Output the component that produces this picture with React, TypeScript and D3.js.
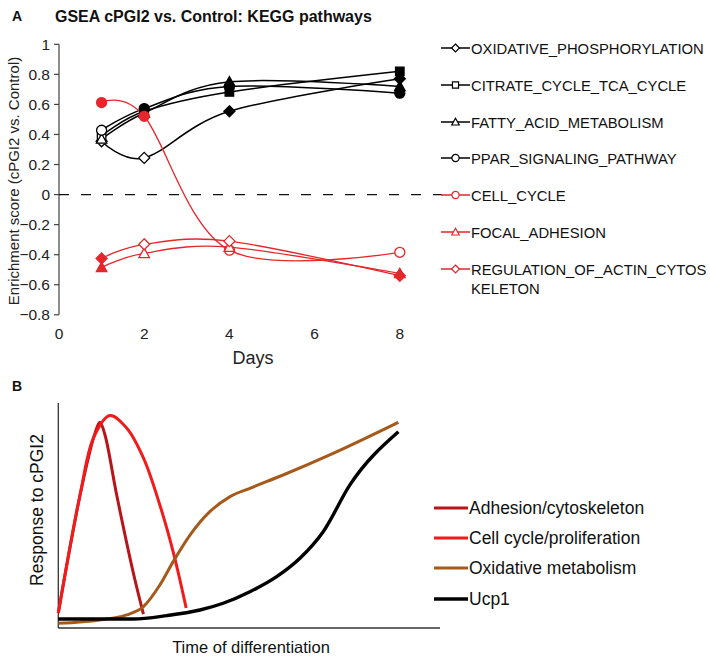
import React from "react";
import * as d3 from "d3";

// ---------- Panel A data ----------
const days = [1, 2, 4, 8];
const xTicks = [0, 2, 4, 6, 8];
const yTicks = [-0.8, -0.6, -0.4, -0.2, 0, 0.2, 0.4, 0.6, 0.8, 1];

const seriesNames = [
  "OXIDATIVE_PHOSPHORYLATION",
  "CITRATE_CYCLE_TCA_CYCLE",
  "FATTY_ACID_METABOLISM",
  "PPAR_SIGNALING_PATHWAY",
  "CELL_CYCLE",
  "FOCAL_ADHESION",
  "REGULATION_OF_ACTIN_CYTOSKELETON",
];
const legendLabels = [
  ["OXIDATIVE_PHOSPHORYLATION"],
  ["CITRATE_CYCLE_TCA_CYCLE"],
  ["FATTY_ACID_METABOLISM"],
  ["PPAR_SIGNALING_PATHWAY"],
  ["CELL_CYCLE"],
  ["FOCAL_ADHESION"],
  ["REGULATION_OF_ACTIN_CYTOS", "KELETON"],
];
const oxphos = [0.355, 0.244, 0.554, 0.77];
const citrate = [0.39, 0.554, 0.683, 0.82];
const fattyAcid = [0.37, 0.543, 0.75, 0.72];
const ppar = [0.428, 0.572, 0.72, 0.675];
const cellCycle = [0.612, 0.521, -0.37, -0.384];
const focalAdhesion = [-0.484, -0.391, -0.35, -0.525];
const actinCyto = [-0.425, -0.331, -0.31, -0.54];

const oxphosFilled = [false, false, true, true];
const citrateFilled = [false, true, true, true];
const fattyFilled = [false, true, true, true];
const pparFilled = [false, true, true, true];
const cellFilled = [true, true, false, false];
const focalFilled = [true, false, false, true];
const actinFilled = [true, false, false, true];

const seriesValues = [oxphos, citrate, fattyAcid, ppar, cellCycle, focalAdhesion, actinCyto];
const seriesFilled = [oxphosFilled, citrateFilled, fattyFilled, pparFilled, cellFilled, focalFilled, actinFilled];
const seriesShapes = ["diamond", "square", "triangle", "circle", "circle", "triangle", "diamond"];
const seriesGroup = ["up", "up", "up", "up", "down", "down", "down"];

// ---------- Panel B data (schematic, arbitrary units 0-100) ----------
const bLabels = ["Adhesion/cytoskeleton", "Cell cycle/proliferation", "Oxidative metabolism", "Ucp1"];
const adhesionPts: [number, number][] = [[0, 6.7], [5.7, 59.1], [9.6, 86.5], [10.9, 91.4], [12.2, 86], [15.3, 59.1], [19.6, 24.9], [22.3, 6.2]];
const cellCyclePts: [number, number][] = [[0, 6.7], [5.7, 59.1], [9.2, 84.4], [13.5, 94.4], [17.9, 88.9], [22.3, 75.6], [26.6, 54.7], [30.1, 33.8], [33.5, 8.9]];
const oxMetPts: [number, number][] = [[0, 2.1], [10.9, 3.6], [17.9, 5.8], [22.3, 9.5], [26.6, 19.1], [30.1, 29.5], [34.5, 41.3], [39.7, 51.7], [45, 58.4], [50.2, 62.1], [58.9, 68], [72, 77.6], [89.1, 91.4]];
const ucp1Pts: [number, number][] = [[0, 4], [19.6, 4], [28.4, 5.5], [37.1, 8], [43.2, 11], [50.2, 16.1], [57.2, 22.8], [63.3, 31], [69.4, 42.8], [76.4, 63.6], [89.1, 87.2]];
const bSeries = [adhesionPts, cellCyclePts, oxMetPts, ucp1Pts];

const FONT = "'Liberation Sans', Arial, Helvetica, sans-serif";
const RED = "#e5262b";
const BLACK = "#000000";
const bColors = ["#b81419", "#f21b1b", "#a55a1c", "#000000"];
const bWidths = [3, 3, 3, 3.4];

function markerPath(shape: string, cx: number, cy: number, s: number): string {
  if (shape === "diamond") {
    const h = s * 1.1;
    return `M${cx},${cy - h}L${cx + h},${cy}L${cx},${cy + h}L${cx - h},${cy}Z`;
  }
  if (shape === "square") {
    const h = s * 0.85;
    return `M${cx - h},${cy - h}L${cx + h},${cy - h}L${cx + h},${cy + h}L${cx - h},${cy + h}Z`;
  }
  if (shape === "triangle") {
    const h = s * 1.05;
    return `M${cx},${cy - h}L${cx + h},${cy + h * 0.8}L${cx - h},${cy + h * 0.8}Z`;
  }
  const r = s;
  return `M${cx - r},${cy}A${r},${r} 0 1,0 ${cx + r},${cy}A${r},${r} 0 1,0 ${cx - r},${cy}Z`;
}

export default function App() {
  // Panel A scales
  const x = d3.scaleLinear().domain([0, 9]).range([59, 442.4]);
  const y = d3.scaleLinear().domain([-0.8, 1]).range([314.8, 44.3]);
  const line = d3
    .line<[number, number]>()
    .x((d) => x(d[0]))
    .y((d) => y(d[1]))
    .curve(d3.curveCardinal.tension(0));

  // Panel B scales
  const bx = d3.scaleLinear().domain([0, 100]).range([58.3, 440]);
  const by = d3.scaleLinear().domain([0, 100]).range([628, 403]);
  const bLinePeak = d3
    .line<[number, number]>()
    .x((d) => bx(d[0]))
    .y((d) => by(d[1]))
    .curve(d3.curveCatmullRom.alpha(0.5));
  const bLineRise = d3
    .line<[number, number]>()
    .x((d) => bx(d[0]))
    .y((d) => by(d[1]))
    .curve(d3.curveMonotoneX);

  const legendY = [48, 85, 122, 158, 195, 232, 269];
  const bLegendY = [508, 538, 568, 599];

  return (
    <svg
      width={710}
      height={657}
      viewBox="0 0 710 657"
      style={{ position: "absolute", left: 0, top: 0, background: "#fff", fontFamily: FONT }}
    >
      <rect x={0} y={0} width={710} height={657} fill="#fff" />
      {/* ---------- Panel A ---------- */}
      <text x={12} y={21} fontSize={14} fontWeight="bold" fill="#111">A</text>
      <text x={55} y={22} fontSize={16} fontWeight="bold" fill="#111">
        GSEA cPGI2 vs. Control: KEGG pathways
      </text>

      {/* y axis */}
      <line x1={x(0)} x2={x(0)} y1={y(1)} y2={y(-0.8)} stroke="#404040" strokeWidth={1.2} />
      {yTicks.map((t) => (
        <g key={t}>
          <line x1={x(0) - 5} x2={x(0)} y1={y(t)} y2={y(t)} stroke="#404040" strokeWidth={1.2} />
          <text x={x(0) - 9} y={y(t) + 5.5} fontSize={15.5} textAnchor="end" fill="#222">
            {d3.format("")(t)}
          </text>
        </g>
      ))}
      {/* zero dashed line */}
      <line
        x1={x(0)}
        x2={x(9)}
        y1={y(0)}
        y2={y(0)}
        stroke="#111"
        strokeWidth={1.3}
        strokeDasharray="10,12"
      />
      {/* x tick labels */}
      {xTicks.map((t) => (
        <text key={t} x={x(t)} y={339} fontSize={15.5} textAnchor="middle" fill="#222">
          {t}
        </text>
      ))}
      <text x={253} y={364} fontSize={18} textAnchor="middle" fill="#222">Days</text>
      <text
        transform={`translate(19,${181}) rotate(-90)`}
        fontSize={15}
        textAnchor="middle"
        fill="#222"
      >
        Enrichment score (cPGI2 vs. Control)
      </text>

      {/* series lines */}
      {seriesValues.map((vals, i) => {
        const color = seriesGroup[i] === "up" ? BLACK : RED;
        const pts = days.map((d, j) => [d, vals[j]] as [number, number]);
        return (
          <path
            key={seriesNames[i]}
            d={line(pts) || ""}
            fill="none"
            stroke={color}
            strokeWidth={seriesGroup[i] === "up" ? 1.5 : 1.3}
          />
        );
      })}
      {/* markers */}
      {seriesValues.map((vals, i) => {
        const color = seriesGroup[i] === "up" ? BLACK : RED;
        return (
          <g key={"m" + seriesNames[i]}>
            {days.map((d, j) => (
              <path
                key={d}
                d={markerPath(seriesShapes[i], x(d), y(vals[j]), 5)}
                fill={seriesFilled[i][j] ? color : "#fff"}
                stroke={color}
                strokeWidth={1.3}
              />
            ))}
          </g>
        );
      })}

      {/* legend A */}
      {legendLabels.map((lab, i) => {
        const color = seriesGroup[i] === "up" ? BLACK : RED;
        const ly = legendY[i];
        return (
          <g key={"lg" + i}>
            <line x1={441} x2={470} y1={ly} y2={ly} stroke={color} strokeWidth={1.5} />
            <path d={markerPath(seriesShapes[i], 455.5, ly, 3.6)} fill="#fff" stroke={color} strokeWidth={1.2} />
            {lab.map((t, k) => (
              <text key={k} x={471} y={ly + 5.5 + k * 19} fontSize={14.8} fill="#111">
                {t}
              </text>
            ))}
          </g>
        );
      })}

      {/* ---------- Panel B ---------- */}
      <text x={12} y={391} fontSize={14} fontWeight="bold" fill="#111">B</text>
      <line x1={bx(0)} x2={bx(0)} y1={by(100)} y2={by(0)} stroke="#333" strokeWidth={1.3} />
      <line x1={bx(0)} x2={bx(100)} y1={by(0)} y2={by(0)} stroke="#333" strokeWidth={1.3} />
      {bSeries.map((pts, i) => (
        <path
          key={bLabels[i]}
          d={(i < 2 ? bLinePeak(pts) : bLineRise(pts)) || ""}
          fill="none"
          stroke={bColors[i]}
          strokeWidth={bWidths[i]}
          strokeLinejoin="round"
        />
      ))}
      <text x={251} y={653} fontSize={16.5} textAnchor="middle" fill="#111">
        Time of differentiation
      </text>
      <text
        transform={`translate(43,${510}) rotate(-90)`}
        fontSize={17.5}
        textAnchor="middle"
        fill="#111"
      >
        Response to cPGI2
      </text>
      {bLabels.map((lab, i) => (
        <g key={"bl" + i}>
          <line x1={434} x2={468} y1={bLegendY[i]} y2={bLegendY[i]} stroke={bColors[i]} strokeWidth={bWidths[i]} />
          <text x={469} y={bLegendY[i] + 6} fontSize={17.5} fill="#111">
            {lab}
          </text>
        </g>
      ))}
    </svg>
  );
}
